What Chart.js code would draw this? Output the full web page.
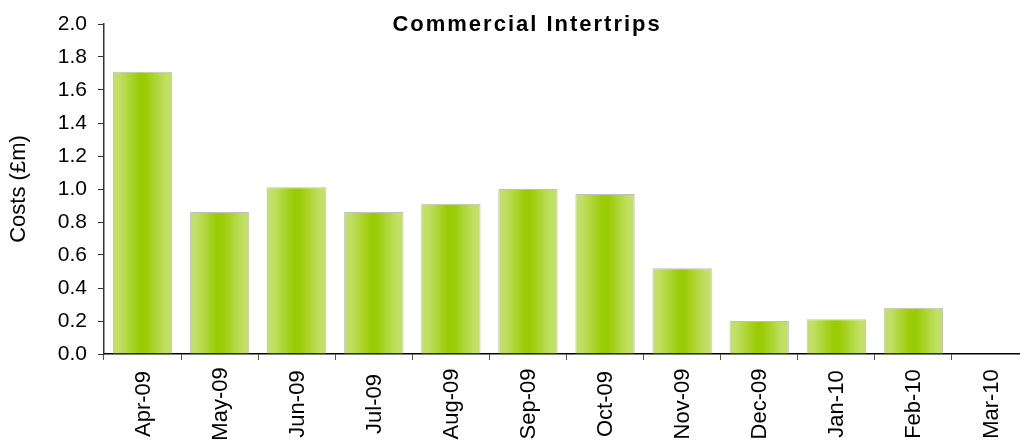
<!DOCTYPE html>
<html>
<head>
<meta charset="utf-8">
<script src="https://cdn.jsdelivr.net/npm/chart.js@4.4.1/dist/chart.umd.min.js"></script>
<style>
  html,body{margin:0;padding:0;background:#fff;overflow:hidden}
  #wrap{width:1020px;height:440px;overflow:hidden}
  #box{width:1029px;height:440px}
</style>
</head>
<body>
<div id="wrap"><div id="box"><canvas id="chart"></canvas></div></div>
<script>
// data
const months = ['Apr-09','May-09','Jun-09','Jul-09','Aug-09','Sep-09','Oct-09','Nov-09','Dec-09','Jan-10','Feb-10','Mar-10'];
const costs = [1.71,0.86,1.01,0.86,0.91,1.00,0.97,0.52,0.20,0.21,0.28,0];
const chartTitle = 'Commercial Intertrips';
const yTitle = 'Costs (£m)';

const FONT = "'Liberation Sans', Arial, sans-serif";
const BAR_PCT = 0.77;

// horizontal light-dark-light fill per bar
function barFill(ctx){
  const chart = ctx.chart;
  if(!chart.chartArea) return '#b0d633';
  const xs = chart.scales.x;
  const cx = xs.getPixelForValue(ctx.dataIndex);
  const w = xs.width / months.length * BAR_PCT;
  const g = chart.ctx.createLinearGradient(cx - w/2, 0, cx + w/2, 0);
  g.addColorStop(0, '#c3e16a');
  g.addColorStop(0.12, '#c0df62');
  g.addColorStop(0.45, '#9bcb05');
  g.addColorStop(0.55, '#9bcb05');
  g.addColorStop(0.88, '#c0df62');
  g.addColorStop(1, '#c3e16a');
  return g;
}

// title sits inside the plot area, and the month labels are centred
// vertically (excel style), so both are drawn by hand
const textPlugin = {
  id:'texts',
  afterDraw(chart){
    const {ctx, chartArea:a} = chart;
    const xs = chart.scales.x;
    ctx.save();
    ctx.font = 'bold 22px ' + FONT;
    ctx.letterSpacing = '2px';
    ctx.fillStyle = '#000';
    ctx.textAlign = 'center';
    ctx.textBaseline = 'alphabetic';
    ctx.fillText(chartTitle, a.left + (a.right - a.left) * 0.4574, 31);

    ctx.letterSpacing = '0px';
    ctx.font = '22px ' + FONT;
    ctx.textBaseline = 'middle';
    const yc = a.bottom + 50;
    months.forEach((m, i) => {
      ctx.save();
      ctx.translate(xs.getPixelForValue(i), yc);
      ctx.rotate(-Math.PI/2);
      ctx.fillText(m, 0, 1);
      ctx.restore();
    });
    ctx.restore();
  }
};

new Chart(document.getElementById('chart'), {
  type:'bar',
  data:{labels:months, datasets:[{
    data:costs,
    backgroundColor:barFill,
    borderColor:'#c0c0c0',
    borderWidth:1,
    barPercentage:BAR_PCT,
    categoryPercentage:1
  }]},
  options:{
    responsive:true,
    maintainAspectRatio:false,
    animation:false,
    layout:{padding:{top:24,bottom:0,left:0,right:0}},
    plugins:{legend:{display:false}, tooltip:{enabled:false}},
    scales:{
      x:{
        offset:true,
        afterFit(s){ s.height = 86; },
        grid:{display:true, drawOnChartArea:false, offset:true, tickLength:6, color:'#555', lineWidth:1},
        border:{display:true, color:'#000', width:1.5},
        ticks:{display:false}
      },
      y:{
        min:0, max:2,
        afterFit(s){ s.width = 104; },
        grid:{display:true, drawOnChartArea:false, tickLength:6, color:'#333', lineWidth:1},
        border:{display:true, color:'#333', width:1.5},
        ticks:{stepSize:0.2, padding:11, color:'#000', font:{family:FONT, size:21},
          callback:v => v.toFixed(1)},
        title:{display:true, text:yTitle, color:'#000', padding:{top:6,bottom:0}, font:{family:FONT, size:22}}
      }
    }
  },
  plugins:[textPlugin]
});
</script>
</body>
</html>
